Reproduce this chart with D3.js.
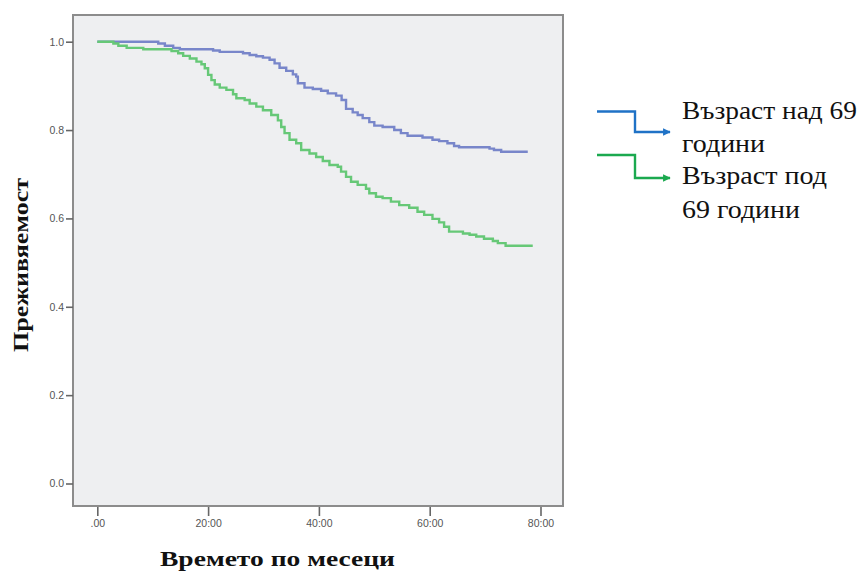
<!DOCTYPE html>
<html>
<head>
<meta charset="utf-8">
<script src="https://cdn.jsdelivr.net/npm/d3@7"></script>
<style>
  html, body { margin: 0; padding: 0; background: #ffffff; }
  svg { display: block; }
  .serif { font-family: "Liberation Serif", "Times New Roman", serif; }
</style>
</head>
<body>
<svg id="chart" width="860" height="572"></svg>
<script>
// Kaplan–Meier survival steps (months, cumulative survival)
const overTimes = [0, 11.0, 12.2, 13.7, 14.9, 20.9, 22.1, 26.3, 27.5, 28.7, 29.9, 31.1, 32.0, 32.9, 34.1, 35.3, 35.9, 36.2, 37.4, 38.9, 40.4, 41.6, 43.1, 44.1, 44.9, 46.1, 47.0, 47.9, 49.1, 50.0, 51.5, 53.6, 54.8, 56.0, 58.7, 60.5, 61.7, 63.2, 64.4, 65.3, 70.8, 71.6, 72.9, 77.7];
const overSurv  = [1.0, 0.996, 0.991, 0.986, 0.983, 0.980, 0.977, 0.974, 0.970, 0.967, 0.964, 0.959, 0.951, 0.941, 0.934, 0.926, 0.921, 0.906, 0.896, 0.893, 0.889, 0.883, 0.878, 0.868, 0.848, 0.840, 0.834, 0.827, 0.818, 0.810, 0.807, 0.800, 0.793, 0.787, 0.783, 0.778, 0.775, 0.770, 0.764, 0.761, 0.758, 0.755, 0.751, 0.751];

const underTimes = [0, 2.9, 3.8, 5.3, 8.3, 13.4, 14.6, 15.5, 16.7, 17.9, 18.8, 19.4, 20.0, 20.6, 21.2, 22.1, 23.3, 24.5, 25.1, 26.6, 27.5, 28.7, 29.9, 31.4, 32.6, 33.2, 33.8, 34.7, 35.9, 36.8, 38.3, 39.5, 40.7, 41.9, 43.4, 44.0, 44.9, 45.8, 47.0, 48.5, 49.1, 50.3, 51.5, 53.0, 54.5, 56.3, 57.8, 59.0, 60.5, 61.7, 62.6, 63.5, 66.0, 67.2, 68.4, 69.8, 71.4, 72.3, 73.7, 78.6];
const underSurv  = [1.0, 0.996, 0.991, 0.986, 0.983, 0.979, 0.974, 0.968, 0.962, 0.955, 0.949, 0.940, 0.925, 0.913, 0.903, 0.896, 0.891, 0.881, 0.872, 0.868, 0.860, 0.853, 0.845, 0.834, 0.822, 0.807, 0.793, 0.778, 0.770, 0.755, 0.747, 0.739, 0.730, 0.721, 0.717, 0.706, 0.694, 0.683, 0.676, 0.667, 0.657, 0.649, 0.646, 0.638, 0.630, 0.624, 0.615, 0.608, 0.599, 0.591, 0.581, 0.570, 0.566, 0.563, 0.559, 0.554, 0.549, 0.544, 0.538, 0.538];

const xTicks = [0, 20, 40, 60, 80];
const xTickLabels = [".00", "20:00", "40:00", "60:00", "80:00"];
const yTicks = [0, 0.2, 0.4, 0.6, 0.8, 1.0];
const yTickLabels = ["0.0", "0.2", "0.4", "0.6", "0.8", "1.0"];

const legendLabels = [["Възраст над 69", "години"], ["Възраст под", "69 години"]];
const xTitle = "Времето по месеци";
const yTitle = "Преживяемост";

const svg = d3.select("#chart");

// Plot frame geometry
const frame = { left: 73, right: 563, top: 15, bottom: 506 };

const x = d3.scaleLinear().domain([0, 80]).range([97.3, 540.5]);
const y = d3.scaleLinear().domain([0, 1]).range([483.5, 41.7]);

// Background panel
svg.append("rect")
  .attr("x", frame.left).attr("y", frame.top)
  .attr("width", frame.right - frame.left)
  .attr("height", frame.bottom - frame.top)
  .attr("fill", "#eeeff1")
  .attr("stroke", "none");

// Survival curves
const line = d3.line()
  .x(d => x(d[0]))
  .y(d => y(d[1]))
  .curve(d3.curveStepAfter);

const series = [
  { times: overTimes, surv: overSurv, color: "#7886ca" },
  { times: underTimes, surv: underSurv, color: "#66c877" }
];

svg.append("g").selectAll("path")
  .data(series)
  .join("path")
  .attr("d", s => line(s.times.map((t, i) => [t, s.surv[i]])))
  .attr("fill", "none")
  .attr("stroke", s => s.color)
  .attr("stroke-width", 2.4)
  .attr("stroke-linejoin", "miter");

// Frame border
svg.append("rect")
  .attr("x", frame.left).attr("y", frame.top)
  .attr("width", frame.right - frame.left)
  .attr("height", frame.bottom - frame.top)
  .attr("fill", "none")
  .attr("stroke", "#8c8c8c")
  .attr("stroke-width", 2);

// Y axis
const yAxis = d3.axisLeft(y)
  .tickValues(yTicks)
  .tickFormat((d, i) => yTickLabels[i])
  .tickSize(7)
  .tickPadding(2);

const gy = svg.append("g")
  .attr("transform", `translate(${frame.left},0)`)
  .call(yAxis);
gy.select(".domain").remove();
gy.selectAll(".tick line").attr("stroke", "#666").attr("stroke-width", 1.6);
gy.selectAll(".tick text")
  .attr("fill", "#555")
  .style("font-family", "'Liberation Sans', Arial, sans-serif")
  .style("font-size", "10.5px");

// X axis
const xAxis = d3.axisBottom(x)
  .tickValues(xTicks)
  .tickFormat((d, i) => xTickLabels[i])
  .tickSize(9)
  .tickPadding(4);

const gx = svg.append("g")
  .attr("transform", `translate(0,${frame.bottom + 1})`)
  .call(xAxis);
gx.select(".domain").remove();
gx.selectAll(".tick line").attr("stroke", "#666").attr("stroke-width", 1.6);
gx.selectAll(".tick text")
  .attr("fill", "#555")
  .style("font-family", "'Liberation Sans', Arial, sans-serif")
  .style("font-size", "10.5px");

// Axis titles
svg.append("text")
  .attr("class", "serif")
  .attr("x", 160).attr("y", 566)
  .attr("textLength", 235)
  .attr("lengthAdjust", "spacingAndGlyphs")
  .style("font-weight", "bold")
  .style("font-size", "22px")
  .attr("fill", "#111")
  .text(xTitle);

svg.append("text")
  .attr("class", "serif")
  .attr("transform", "translate(28,352) rotate(-90)")
  .attr("textLength", 174)
  .attr("lengthAdjust", "spacingAndGlyphs")
  .style("font-weight", "bold")
  .style("font-size", "22px")
  .attr("fill", "#111")
  .text(yTitle);

// Legend with stepped arrows
const defs = svg.append("defs");
const legendColors = ["#1f72c6", "#1ba94f"];
legendColors.forEach((c, i) => {
  defs.append("marker")
    .attr("id", "arrow" + i)
    .attr("viewBox", "0 0 10 10")
    .attr("refX", 9).attr("refY", 5)
    .attr("markerWidth", 3.2).attr("markerHeight", 3.2)
    .attr("markerUnits", "strokeWidth")
    .attr("orient", "auto")
    .append("path")
    .attr("d", "M0,0 L10,5 L0,10 Z")
    .attr("fill", c);
});

const legendRows = [
  { top: 111.5, bottom: 132, textY: [119, 152], widths: [175, 83] },
  { top: 155, bottom: 178, textY: [184, 218], widths: [145, 118] }
];

legendRows.forEach((r, i) => {
  svg.append("path")
    .attr("d", `M597,${r.top} H635 V${r.bottom} H670`)
    .attr("fill", "none")
    .attr("stroke", legendColors[i])
    .attr("stroke-width", 2.4)
    .attr("marker-end", `url(#arrow${i})`);
  legendLabels[i].forEach((t, j) => {
    svg.append("text")
      .attr("class", "serif")
      .attr("x", 682).attr("y", r.textY[j])
      .attr("textLength", r.widths[j])
      .attr("lengthAdjust", "spacingAndGlyphs")
      .style("font-size", "26px")
      .attr("fill", "#111")
      .text(t);
  });
});
</script>
</body>
</html>
